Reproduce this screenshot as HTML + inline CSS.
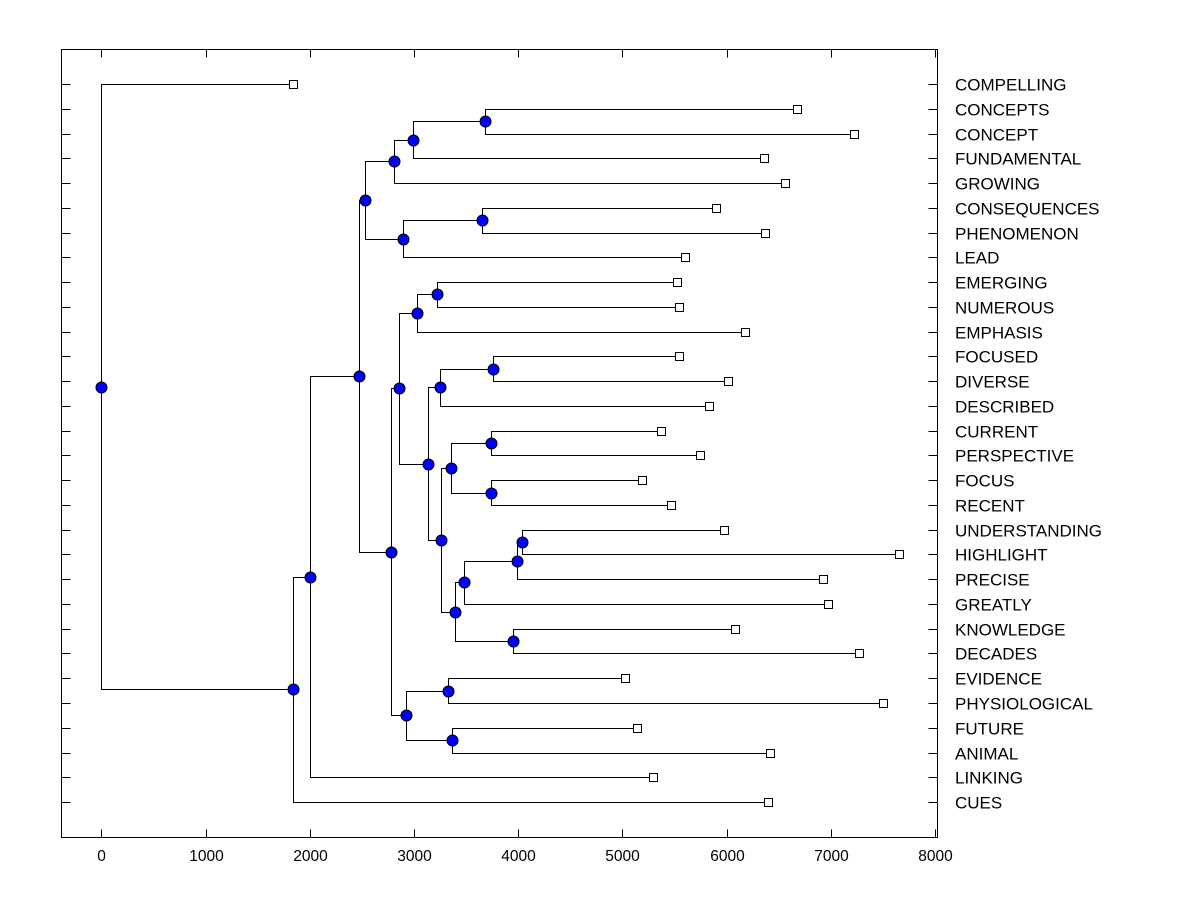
<!DOCTYPE html>
<html><head><meta charset="utf-8"><style>
html,body{margin:0;padding:0;background:#fff;}
svg text{font-family:"Liberation Sans",Arial,sans-serif;}
</style></head><body>
<svg id="chart" width="1200" height="900" xmlns="http://www.w3.org/2000/svg">
<rect x="0" y="0" width="1200" height="900" fill="#fff"/>
<g id="plot"></g>
</svg>
<script>
const leafLabels = ["COMPELLING","CONCEPTS","CONCEPT","FUNDAMENTAL","GROWING","CONSEQUENCES","PHENOMENON","LEAD","EMERGING","NUMEROUS","EMPHASIS","FOCUSED","DIVERSE","DESCRIBED","CURRENT","PERSPECTIVE","FOCUS","RECENT","UNDERSTANDING","HIGHLIGHT","PRECISE","GREATLY","KNOWLEDGE","DECADES","EVIDENCE","PHYSIOLOGICAL","FUTURE","ANIMAL","LINKING","CUES"];
const leafValues = [1840,6680,7220,6360,6560,5900,6370,5600,5525,5545,6180,5545,6015,5830,5370,5745,5190,5470,5975,7655,6925,6975,6080,7270,5025,7500,5140,6420,5295,6400];
const mergeLeft  = ["L1","N0","N1","L5","N3","N2","L8","N6","L11","N8","L14","L16","N10","L18","N13","N14","L22","N15","N12","N9","N7","L24","L26","N21","N20","N5","N25","N26","L0"];
const mergeRight = ["L2","L3","L4","L6","L7","N4","L9","L10","L12","L13","L15","L17","N11","L19","L20","L21","L23","N16","N17","N18","N19","L25","L27","N22","N23","N24","L28","L29","N27"];
const mergeHeights = [3680,2990,2810,3655,2895,2530,3220,3030,3760,3250,3740,3740,3355,4035,3990,3480,3950,3395,3260,3135,2855,3325,3370,2920,2780,2470,2000,1840,0];
const xTicks = [0,1000,2000,3000,4000,5000,6000,7000,8000];

const NS="http://www.w3.org/2000/svg";
const g=document.getElementById('plot');
const L=61.5,R=937.5,T=49.5,B=837.5;
const px=v=>Math.round(v)+0.5;
const xs=v=>101.3+v*0.1042;
const ys=i=>84+i*24.76;
function mk(tag,attrs){const e=document.createElementNS(NS,tag);for(const k in attrs)e.setAttribute(k,attrs[k]);g.appendChild(e);return e;}

let e=mk('rect',{x:L,y:T,width:R-L,height:B-T,fill:'none',stroke:'#000','stroke-width':1,'shape-rendering':'crispEdges'});



xTicks.forEach(t=>{
  const x=px(xs(t));
  let a=mk('line',{x1:x,x2:x,y1:B,y2:B-8,stroke:'#000','shape-rendering':'crispEdges'});
  
  
  let b=mk('line',{x1:x,x2:x,y1:T,y2:T+8,stroke:'#000','shape-rendering':'crispEdges'});
  
  
  let tx=mk('text',{x:x,y:861,'text-anchor':'middle','font-size':15.5,fill:'#000'});
  tx.textContent=t;
  
  
});

leafLabels.forEach((lab,i)=>{
  const y=px(ys(i));
  let a=mk('line',{x1:L,x2:L+9,y1:y,y2:y,stroke:'#000','shape-rendering':'crispEdges'});
  
  
  let b=mk('line',{x1:R,x2:R-9,y1:y,y2:y,stroke:'#000','shape-rendering':'crispEdges'});
  
  
  let t=mk('text',{x:955,y:y+6,'font-size':17,fill:'#000'});
  t.textContent=lab;
  
  
});

const nodeY=[];
function ref(r){const k=r[0],i=+r.slice(1);return k==='L'?{x:xs(leafValues[i]),y:ys(i)}:{x:xs(mergeHeights[i]),y:nodeY[i]};}
const circles=[];
mergeHeights.forEach((h,i)=>{
  const a=ref(mergeLeft[i]),b=ref(mergeRight[i]);
  const x=xs(h);
  nodeY[i]=(a.y+b.y)/2;
  let l1=mk('polyline',{points:`${px(a.x)},${px(a.y)} ${px(x)},${px(a.y)} ${px(x)},${px(b.y)} ${px(b.x)},${px(b.y)}`,fill:'none',stroke:'#000','stroke-width':1,'shape-rendering':'crispEdges'});
  
  
  circles.push([px(x),px(nodeY[i])]);
});
leafValues.forEach((v,i)=>{
  let s=mk('rect',{x:px(xs(v))-4,y:px(ys(i))-4,width:8,height:8,fill:'#fff',stroke:'#000','stroke-width':1,'shape-rendering':'crispEdges'});
  
  
});
circles.forEach(c=>{
  let n=mk('circle',{cx:c[0],cy:c[1],r:5.5,fill:'#0000ff',stroke:'#000','stroke-width':1});
  
  
});
</script>
</body></html>
